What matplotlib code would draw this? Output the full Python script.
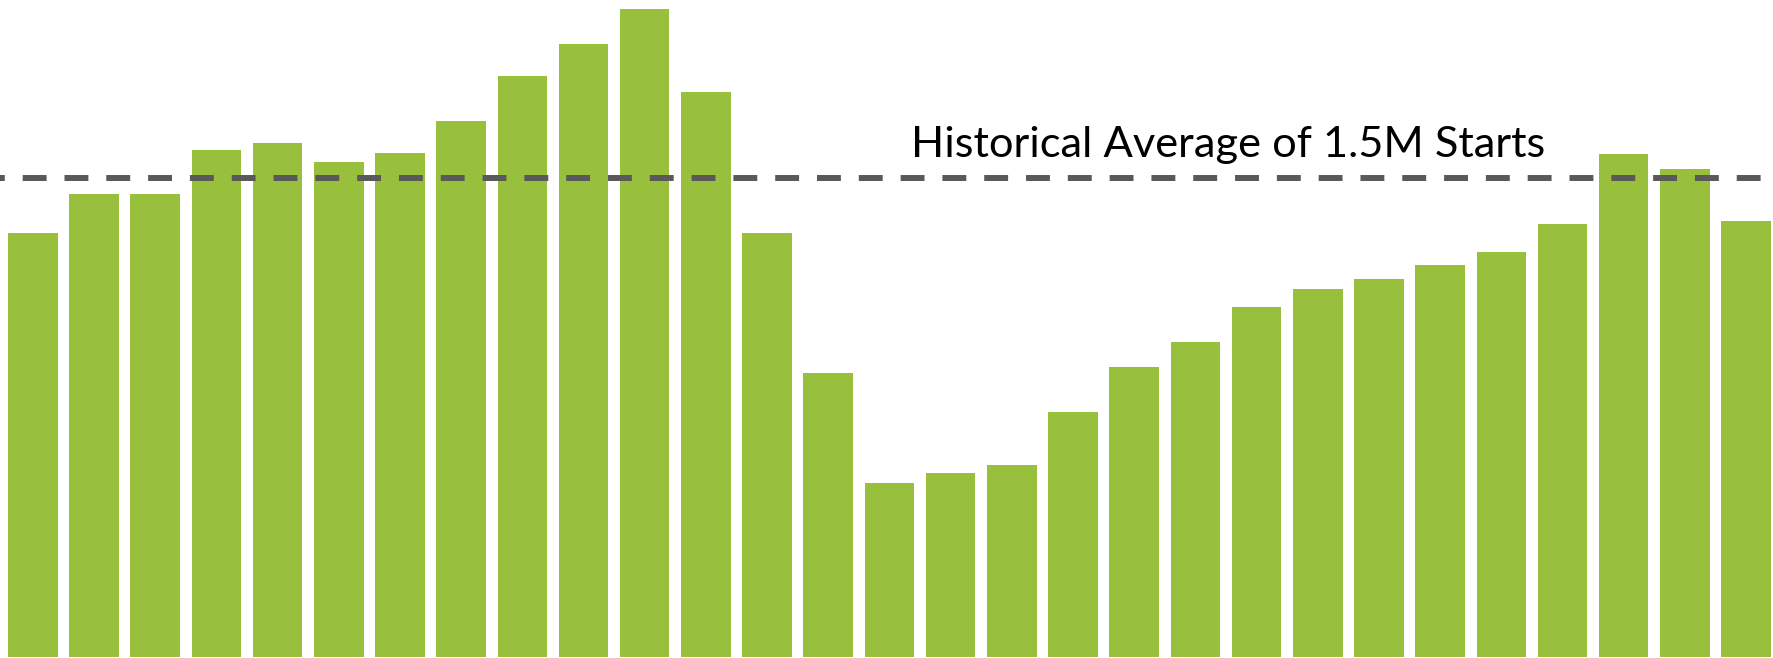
import matplotlib

matplotlib.use("Agg")
import matplotlib.pyplot as plt
import numpy as np

# annual housing starts, millions
starts = [1.33, 1.45, 1.45, 1.59, 1.61, 1.55, 1.58, 1.68, 1.82, 1.92,
          2.03, 1.77, 1.33, 0.89, 0.545, 0.577, 0.602, 0.768, 0.909, 0.987,
          1.097, 1.153, 1.184, 1.228, 1.269, 1.357, 1.576, 1.529, 1.366]
historical_avg = 1.5
label = "Historical Average of 1.5M Starts"

fig = plt.figure(figsize=(17.73, 6.58), dpi=100)
ax = fig.add_axes([0, 0, 1, 1])

x = np.arange(len(starts))
ax.bar(x, starts, width=0.81, color="#99C03C", zorder=1)
ax.axhline(historical_avg, color="#595959", lw=4.3, ls=(3.2, (4, 3)), zorder=2)

ax.text(911 / 1773, 1 - 157 / 658, label, transform=ax.transAxes,
        ha="left", va="baseline", fontsize=31.2, family="Lato", color="#000000")

ax.set_xlim(-0.536, 28.44)
ax.set_ylim(-0.003, 2.059)
ax.axis("off")

fig.savefig("out.png", dpi=100)
plt.close(fig)
